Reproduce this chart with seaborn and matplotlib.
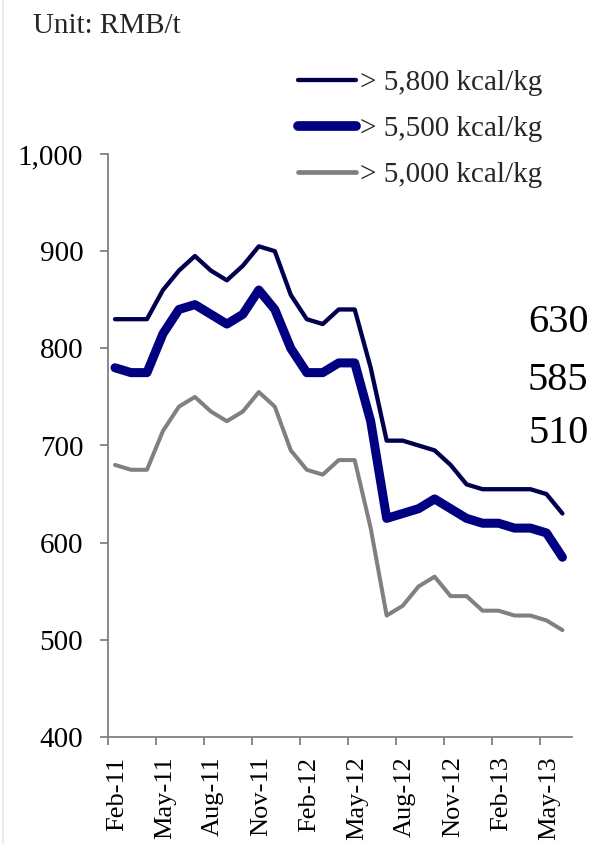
import numpy as np
import pandas as pd
import matplotlib
matplotlib.use("Agg")
import matplotlib.pyplot as plt
import matplotlib.transforms as mtransforms
from matplotlib.lines import Line2D
import seaborn as sns

# Monthly coal prices, Feb-11 .. Jun-13 (RMB/t)
months = ["Feb-11", "Mar-11", "Apr-11", "May-11", "Jun-11", "Jul-11", "Aug-11", "Sep-11",
          "Oct-11", "Nov-11", "Dec-11", "Jan-12", "Feb-12", "Mar-12", "Apr-12", "May-12",
          "Jun-12", "Jul-12", "Aug-12", "Sep-12", "Oct-12", "Nov-12", "Dec-12", "Jan-13",
          "Feb-13", "Mar-13", "Apr-13", "May-13", "Jun-13"]
price_5800 = [830, 830, 830, 860, 880, 895, 880, 870, 885, 905, 900, 855, 830, 825, 840,
              840, 780, 705, 705, 700, 695, 680, 660, 655, 655, 655, 655, 650, 630]
price_5500 = [780, 775, 775, 815, 840, 845, 835, 825, 835, 860, 840, 800, 775, 775, 785,
              785, 725, 625, 630, 635, 645, 635, 625, 620, 620, 615, 615, 610, 585]
price_5000 = [680, 675, 675, 715, 740, 750, 735, 725, 735, 755, 740, 695, 675, 670, 685,
              685, 615, 525, 535, 555, 565, 545, 545, 530, 530, 525, 525, 520, 510]
series_names = ["> 5,800 kcal/kg", "> 5,500 kcal/kg", "> 5,000 kcal/kg"]
y_ticks = [400, 500, 600, 700, 800, 900, 1000]

colors = ["#00004f", "#000080", "#808080"]
widths = [3.1, 6.5, 2.9]

sns.set_theme(style="white")
plt.rcParams["font.family"] = ["Liberation Serif", "DejaVu Serif"]

fig = plt.figure(figsize=(5.93, 8.46), dpi=100)
ax = fig.add_axes([108.3 / 593, 1 - 737 / 846, (571.7 - 108.3) / 593, (737 - 154) / 846])

# data points sit mid-month; ticks mark the start of each quarter month
x_pos = np.arange(len(months)) + 0.42
frames = []
for name, vals in zip(series_names, [price_5800, price_5500, price_5000]):
    frames.append(pd.DataFrame({"x": x_pos, "price": vals, "grade": name}))
df = pd.concat(frames, ignore_index=True)

for name, c, lw in zip(series_names, colors, widths):
    sns.lineplot(data=df[df["grade"] == name], x="x", y="price", color=c, linewidth=lw,
                 ax=ax, legend=False, solid_joinstyle="round", solid_capstyle="round",
                 clip_on=False)

ax.set_xlim(0, len(months))
ax.set_ylim(400, 1000)
ax.set_yticks(y_ticks)
ax.set_yticklabels([f"{v:,}" for v in y_ticks])
tick_idx = list(range(0, len(months), 3))
ax.set_xticks(tick_idx)
ax.set_xticklabels([months[i] for i in tick_idx], rotation=90)
ax.set_xlabel("")
ax.set_ylabel("")

for side in ["top", "right"]:
    ax.spines[side].set_visible(False)
for side in ["left", "bottom"]:
    ax.spines[side].set_color("#808080")
    ax.spines[side].set_linewidth(1.3)
ax.tick_params(axis="both", which="major", direction="out", length=6, width=1.3,
               color="#808080", labelcolor="black", bottom=True, left=True)
ax.tick_params(axis="y", pad=12, labelsize=21)
ax.tick_params(axis="x", pad=8, labelsize=19)
ax.grid(False)

# nudge the rotated month labels a little to the right of their ticks
shift = mtransforms.ScaledTranslation(9 / 100, 0, fig.dpi_scale_trans)
for lbl in ax.get_xticklabels():
    lbl.set_transform(lbl.get_transform() + shift)

# legend
handles = [Line2D([0], [0], color=c, linewidth=w, solid_capstyle="round")
           for c, w in zip(colors, [3.1, 7.0, 3.4])]
leg = fig.legend(handles, series_names, loc="upper left",
                 bbox_to_anchor=(298 / 593, 1 - 70 / 846), frameon=False,
                 fontsize=21, handlelength=2.0, handletextpad=0.12,
                 labelspacing=0.66, borderpad=0, borderaxespad=0)

# last values
for vals, ypos in zip([price_5800, price_5500, price_5000], [827, 767, 712]):
    ax.text(30.05, ypos, f"{vals[-1]}", ha="right", va="center", fontsize=29,
            color="black", clip_on=False)

fig.text(33 / 593, 1 - 13 / 846, "Unit: RMB/t", ha="left", va="top", fontsize=21)

# faint frame edge on the left
fig.add_artist(Line2D([3 / 593, 3 / 593], [0.003, 1], transform=fig.transFigure,
                      color="#e6e6e6", linewidth=1.2))

fig.savefig("out.png", dpi=100)
